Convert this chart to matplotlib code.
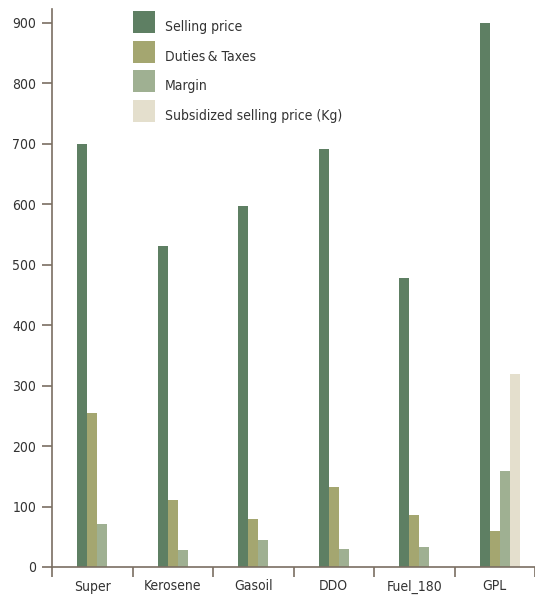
import numpy as np
import matplotlib
matplotlib.use('Agg')
import matplotlib.pyplot as plt
from matplotlib.patches import Rectangle

# Fuel prices by product
products = ['Super', 'Kerosene', 'Gasoil', 'DDO', 'Fuel_180', 'GPL']
selling_price = [700, 531, 597, 692, 478, 900]
duties_taxes = [255, 111, 79, 132, 86, 60]
margin = [71, 28, 45, 30, 33, 159]
subsidized_price = [0, 0, 0, 0, 0, 319]

series_names = ['Selling price', 'Duties\u2009& Taxes', 'Margin', 'Subsidized selling price (Kg)']
colors = ['#5e7f63', '#a4a670', '#9fb092', '#e4dfcd']

plt.rcParams['font.family'] = ['DejaVu Sans']
plt.rcParams['font.stretch'] = 'condensed'

W, H = 535, 597
fig = plt.figure(figsize=(W / 100, H / 100), dpi=100)
ax = fig.add_axes([52 / W, 30 / H, 1 - 52 / W, (567 - 9) / H])

x = np.arange(len(products))
w = 0.124
all_series = [selling_price, duties_taxes, margin, subsidized_price]
for i, (vals, col) in enumerate(zip(all_series, colors)):
    ax.bar(x + (i - 1) * w, vals, width=w, color=col, linewidth=0)

ax.set_xlim(-0.5, len(products) - 0.5)
ax.set_ylim(0, 923)

axis_col = '#7a6e62'
for side in ['top', 'right']:
    ax.spines[side].set_visible(False)
for side in ['left', 'bottom']:
    ax.spines[side].set_color(axis_col)
    ax.spines[side].set_linewidth(1.2)

ax.set_yticks(range(0, 901, 100))
ax.tick_params(axis='y', length=7.2, width=1.2, color=axis_col,
               labelsize=10, labelcolor='#333333', pad=4)

# category boundaries get ticks, labels sit in between
ax.set_xticks(np.arange(len(products) + 1) - 0.5)
ax.set_xticklabels([])
ax.set_xticks(x, minor=True)
ax.set_xticklabels(products, minor=True)
ax.tick_params(axis='x', which='major', length=7.2, width=1.2, color=axis_col)
ax.tick_params(axis='x', which='minor', length=0, labelsize=10,
               labelcolor='#333333', pad=9)

# legend: squares with labels sitting a little low
for i, (name, col) in enumerate(zip(series_names, colors)):
    top = 11 + i * 29.7
    fig.patches.append(Rectangle((133 / W, 1 - (top + 22) / H), 22 / W, 22 / H,
                                 transform=fig.transFigure, facecolor=col,
                                 edgecolor='none'))
    fig.text(165 / W, 1 - (top + 20) / H, name, fontsize=10, color='#333333',
             va='baseline', ha='left')

fig.savefig('out.png', dpi=100, facecolor='white')
